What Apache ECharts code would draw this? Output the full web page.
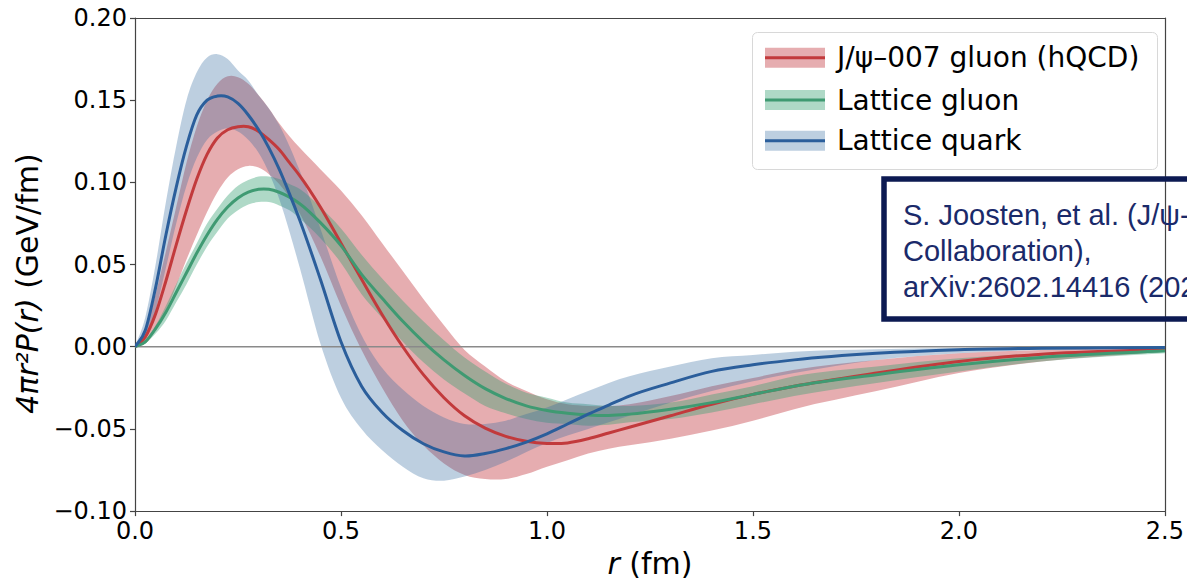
<!DOCTYPE html>
<html><head><meta charset="utf-8">
<script src="https://cdn.jsdelivr.net/npm/echarts@6/dist/echarts.min.js"></script>
<style>html,body{margin:0;padding:0;background:#fff}#c{width:1187px;height:583px}</style>
</head><body><div id="c"></div>
<script>
// radius grid (fm)
const R = [0, 0.025, 0.05, 0.075, 0.1, 0.125, 0.15, 0.175, 0.2, 0.225, 0.25, 0.275, 0.3, 0.325, 0.35, 0.375, 0.4, 0.45, 0.5, 0.55, 0.6, 0.65, 0.7, 0.75, 0.8, 0.85, 0.9, 0.95, 1.0, 1.05, 1.1, 1.15, 1.2, 1.3, 1.4, 1.5, 1.6, 1.8, 2.0, 2.2, 2.5];

// J/psi-007 gluon (hQCD)
const redLine  = [0, 0.006, 0.02, 0.04, 0.062, 0.083, 0.102, 0.117, 0.127, 0.132, 0.1338, 0.1338, 0.131, 0.126, 0.12, 0.112, 0.104, 0.085, 0.063, 0.041, 0.0195, 0.0, -0.017, -0.031, -0.042, -0.0495, -0.0545, -0.0575, -0.0588, -0.0585, -0.056, -0.0525, -0.049, -0.042, -0.035, -0.029, -0.024, -0.016, -0.009, -0.0045, -0.0016];
const redUpper = [0, 0.01, 0.032, 0.058, 0.085, 0.112, 0.134, 0.15, 0.16, 0.1645, 0.164, 0.16, 0.153, 0.145, 0.136, 0.128, 0.121, 0.108, 0.095, 0.08, 0.063, 0.046, 0.029, 0.013, -0.002, -0.012, -0.021, -0.027, -0.032, -0.035, -0.036, -0.0362, -0.035, -0.03, -0.024, -0.019, -0.014, -0.008, -0.004, -0.002, -0.0006];
const redLower = [0, 0.002, 0.01, 0.022, 0.037, 0.053, 0.068, 0.082, 0.094, 0.103, 0.108, 0.11, 0.109, 0.105, 0.099, 0.091, 0.081, 0.055, 0.025, -0.002, -0.025, -0.045, -0.06, -0.071, -0.078, -0.0805, -0.0805, -0.0775, -0.073, -0.069, -0.065, -0.062, -0.06, -0.056, -0.051, -0.045, -0.038, -0.027, -0.016, -0.009, -0.003];

// Lattice gluon
const greenLine  = [0, 0.003, 0.011, 0.021, 0.033, 0.045, 0.057, 0.068, 0.0775, 0.085, 0.0905, 0.094, 0.0958, 0.0958, 0.094, 0.091, 0.087, 0.0755, 0.0615, 0.044, 0.0295, 0.0155, 0.003, -0.008, -0.0175, -0.0255, -0.0315, -0.036, -0.0388, -0.0405, -0.0415, -0.0418, -0.041, -0.038, -0.034, -0.029, -0.024, -0.017, -0.011, -0.0065, -0.0025];
const greenUpper = [0, 0.004, 0.013, 0.025, 0.038, 0.051, 0.063, 0.075, 0.084, 0.092, 0.098, 0.1015, 0.1035, 0.1035, 0.102, 0.099, 0.096, 0.085, 0.072, 0.056, 0.0415, 0.028, 0.0155, 0.004, -0.0065, -0.015, -0.0225, -0.028, -0.031, -0.034, -0.035, -0.036, -0.036, -0.034, -0.029, -0.024, -0.018, -0.012, -0.007, -0.004, -0.001];
const greenLower = [0, 0.002, 0.008, 0.016, 0.027, 0.038, 0.05, 0.061, 0.07, 0.078, 0.083, 0.0865, 0.088, 0.088, 0.086, 0.083, 0.078, 0.066, 0.051, 0.032, 0.0175, 0.003, -0.0095, -0.02, -0.0285, -0.036, -0.0405, -0.044, -0.0463, -0.047, -0.048, -0.0475, -0.046, -0.044, -0.04, -0.035, -0.03, -0.022, -0.015, -0.009, -0.004];

// Lattice quark
const blueLine  = [0, 0.01, 0.036, 0.068, 0.097, 0.122, 0.141, 0.15, 0.1525, 0.152, 0.148, 0.141, 0.132, 0.121, 0.108, 0.093, 0.077, 0.041, 0.003, -0.024, -0.04, -0.051, -0.059, -0.064, -0.0665, -0.065, -0.062, -0.058, -0.053, -0.047, -0.041, -0.0355, -0.03, -0.022, -0.015, -0.011, -0.008, -0.004, -0.0018, -0.0009, -0.0004];
const blueUpper = [0, 0.018, 0.05, 0.088, 0.122, 0.15, 0.167, 0.176, 0.178, 0.175, 0.168, 0.162, 0.153, 0.145, 0.135, 0.122, 0.107, 0.072, 0.036, 0.007, -0.013, -0.026, -0.036, -0.043, -0.047, -0.047, -0.045, -0.041, -0.037, -0.032, -0.027, -0.022, -0.018, -0.012, -0.007, -0.005, -0.003, -0.0015, -0.0007, -0.0003, 0];
const blueLower = [0, 0.004, 0.022, 0.048, 0.075, 0.098, 0.115, 0.126, 0.131, 0.133, 0.131, 0.126, 0.118, 0.106, 0.09, 0.07, 0.048, 0.002, -0.031, -0.05, -0.063, -0.073, -0.08, -0.0815, -0.079, -0.075, -0.07, -0.064, -0.0585, -0.054, -0.05, -0.046, -0.042, -0.034, -0.027, -0.021, -0.016, -0.008, -0.004, -0.002, -0.001];

const xTickStep = 0.5;
const yTickStep = 0.05;
const legendLabels = ['J/ψ–007 gluon (hQCD)', 'Lattice gluon', 'Lattice quark'];
const citationLines = ['S. Joosten, et al. (J/ψ-007', 'Collaboration),', 'arXiv:2602.14416 (2026)'];
const xTitle = '{i|r} (fm)';
const yTitle = '{i|4πr²P(r)} (GeV/fm)';

const COL = {
  red:   {line: '#c23a3c', fill: 'rgba(192,50,58,0.40)'},
  green: {line: '#3f9a72', fill: 'rgba(55,160,115,0.40)'},
  blue:  {line: '#2b5e9b', fill: 'rgba(50,105,160,0.32)'}
};
const FONT = 'DejaVu Sans';

// cubic Hermite (non-uniform three-point slopes) -> bezier segments, in pixel space
function bezSegs(p) {
  const n = p.length, m = new Array(n);
  const d = [], h = [];
  for (let i = 0; i < n - 1; i++) { h[i] = p[i + 1][0] - p[i][0]; d[i] = (p[i + 1][1] - p[i][1]) / h[i]; }
  m[0] = d[0]; m[n - 1] = d[n - 2];
  for (let i = 1; i < n - 1; i++) m[i] = (h[i] * d[i - 1] + h[i - 1] * d[i]) / (h[i - 1] + h[i]);
  const s = [];
  for (let i = 0; i < n - 1; i++) {
    s.push([[p[i][0] + h[i] / 3, p[i][1] + m[i] * h[i] / 3],
            [p[i + 1][0] - h[i] / 3, p[i + 1][1] - m[i + 1] * h[i] / 3]]);
  }
  return s;
}
function f(v) { return v.toFixed(2); }
function curvePath(p) {
  const s = bezSegs(p);
  let d = 'M' + f(p[0][0]) + ' ' + f(p[0][1]);
  s.forEach((c, i) => { d += 'C' + f(c[0][0]) + ' ' + f(c[0][1]) + ' ' + f(c[1][0]) + ' ' + f(c[1][1]) + ' ' + f(p[i + 1][0]) + ' ' + f(p[i + 1][1]); });
  return d;
}
function bandPath(pu, pl) {
  let d = curvePath(pu);
  const s = bezSegs(pl), n = pl.length;
  d += 'L' + f(pl[n - 1][0]) + ' ' + f(pl[n - 1][1]);
  for (let i = n - 2; i >= 0; i--) {
    const c = s[i];
    d += 'C' + f(c[1][0]) + ' ' + f(c[1][1]) + ' ' + f(c[0][0]) + ' ' + f(c[0][1]) + ' ' + f(pl[i][0]) + ' ' + f(pl[i][1]);
  }
  return d + 'Z';
}
function toPx(api, arr) { return R.map((r, i) => api.coord([r, arr[i]])); }

function band(key, lower, upper) {
  return {type: 'custom', name: key + 'Band', coordinateSystem: 'cartesian2d', data: [[0, 0]], z: 1, silent: true, clip: true,
    renderItem: (params, api) => ({type: 'path', shape: {pathData: bandPath(toPx(api, upper), toPx(api, lower))},
      style: {fill: COL[key].fill, stroke: null}})};
}
function line(key, arr) {
  return {type: 'custom', name: key, coordinateSystem: 'cartesian2d', data: [[0, 0]], z: 4, silent: true, clip: true,
    renderItem: (params, api) => ({type: 'path', shape: {pathData: curvePath(toPx(api, arr))},
      style: {fill: null, stroke: COL[key].line, lineWidth: 3, lineJoin: 'round'}})};
}

const series = [
  band('red', redLower, redUpper),
  band('green', greenLower, greenUpper),
  band('blue', blueLower, blueUpper),
  {type: 'line', name: 'zero', data: [[0, 0], [2.5, 0]], symbol: 'none',
   lineStyle: {color: '#8a8a8a', width: 1.5}, z: 3, silent: true},
  line('red', redLine), line('green', greenLine), line('blue', blueLine)
];

// legend drawn as graphic (band patch + line + label)
const legendRowsY = [57.7, 100, 140.7];
const legendKeys = ['red', 'green', 'blue'];
const graphic = [
  {type: 'rect', shape: {x: 752.5, y: 32.5, width: 405, height: 137, r: 5},
   style: {fill: 'rgba(255,255,255,0.85)', stroke: '#d8d8d8', lineWidth: 1}, z: 100}
];
legendKeys.forEach((k, i) => {
  const y = legendRowsY[i];
  graphic.push({type: 'rect', shape: {x: 765, y: y - 10, width: 60, height: 20},
    style: {fill: COL[k].fill}, z: 101});
  graphic.push({type: 'line', shape: {x1: 765, y1: y, x2: 825, y2: y},
    style: {stroke: COL[k].line, lineWidth: 3}, z: 102});
  graphic.push({type: 'text', x: 837, y: y, z: 102,
    style: {text: legendLabels[i], font: '28px "DejaVu Sans"', fill: '#000', verticalAlign: 'middle', align: 'left'}});
});
// citation box (cut by the right edge, as in the original)
graphic.push({type: 'rect', shape: {x: 884, y: 179, width: 420, height: 140},
  style: {fill: 'none', stroke: '#0c1a52', lineWidth: 5.5}, z: 90});
const citY = [215, 251, 287];
citationLines.forEach((t, i) => {
  graphic.push({type: 'text', x: 903, y: citY[i], z: 91,
    style: {text: t, font: '29px "Liberation Sans"', fill: '#1a2a6a', verticalAlign: 'middle', align: 'left'}});
});

const axisLineStyle = {color: '#444', width: 1.2};
const option = {
  animation: false,
  backgroundColor: '#fff',
  grid: {left: 135, right: 18, top: 18, bottom: 62, containLabel: false},
  xAxis: [
    {type: 'value', min: 0, max: 2.5, interval: xTickStep, position: 'bottom',
     axisLine: {show: true, onZero: false, lineStyle: axisLineStyle},
     axisTick: {show: true, length: 5, lineStyle: axisLineStyle},
     splitLine: {show: false},
     axisLabel: {fontSize: 24, fontFamily: FONT, color: '#000', margin: 8, formatter: v => v.toFixed(1)},
     name: xTitle, nameLocation: 'middle', nameGap: 30,
     nameTextStyle: {fontSize: 30, fontFamily: FONT, color: '#000',
       rich: {i: {fontSize: 30, fontFamily: FONT, fontStyle: 'italic', color: '#000'}}}},
    {type: 'value', min: 0, max: 2.5, position: 'top',
     axisLine: {show: true, onZero: false, lineStyle: axisLineStyle},
     axisTick: {show: false}, axisLabel: {show: false}, splitLine: {show: false}}
  ],
  yAxis: [
    {type: 'value', min: -0.1, max: 0.2, interval: yTickStep, position: 'left',
     axisLine: {show: true, onZero: false, lineStyle: axisLineStyle},
     axisTick: {show: true, length: 5, lineStyle: axisLineStyle},
     splitLine: {show: false},
     axisLabel: {fontSize: 24, fontFamily: FONT, color: '#000', margin: 8,
       formatter: v => Math.abs(v) < 1e-9 ? '0.00' : (v < 0 ? '−' : '') + Math.abs(v).toFixed(2)},
     name: yTitle, nameLocation: 'middle', nameRotate: 90, nameGap: 88,
     nameTextStyle: {fontSize: 30, fontFamily: FONT, color: '#000', padding: [0, 38, 0, 0],
       rich: {i: {fontSize: 30, fontFamily: FONT, fontStyle: 'italic', color: '#000'}}}},
    {type: 'value', min: -0.1, max: 0.2, position: 'right',
     axisLine: {show: true, onZero: false, lineStyle: axisLineStyle},
     axisTick: {show: false}, axisLabel: {show: false}, splitLine: {show: false}}
  ],
  series: series,
  graphic: graphic
};
const chart = echarts.init(document.getElementById('c'), null, {renderer: 'svg', width: 1187, height: 583});
chart.setOption(option);
</script></body></html>
